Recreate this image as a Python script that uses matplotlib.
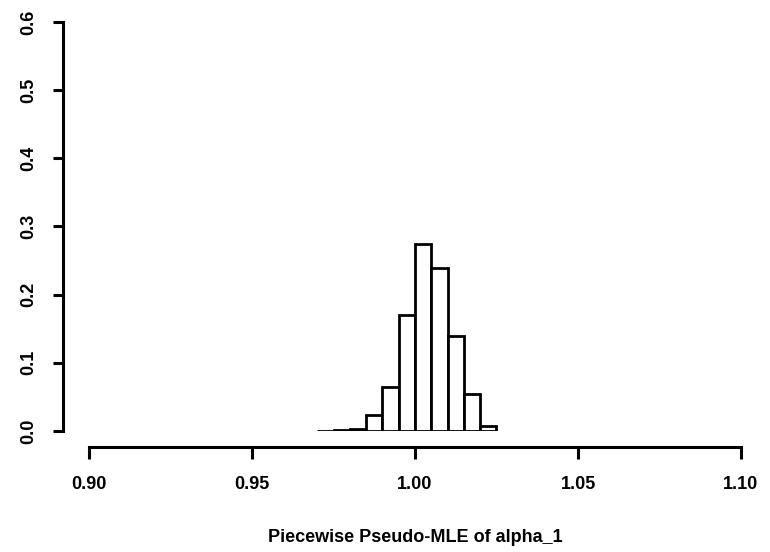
import matplotlib
matplotlib.use("Agg")
import matplotlib.pyplot as plt
import numpy as np

# Data
bin_edges = [0.970, 0.975, 0.980, 0.985, 0.990, 0.995, 1.000, 1.005, 1.010, 1.015, 1.020, 1.025]
proportions = [0.0005, 0.001, 0.003, 0.023, 0.065, 0.170, 0.275, 0.239, 0.139, 0.054, 0.007]
x_ticks = [0.90, 0.95, 1.00, 1.05, 1.10]
x_ticklabels = ["0.90", "0.95", "1.00", "1.05", "1.10"]
y_ticks = [0.0, 0.1, 0.2, 0.3, 0.4, 0.5, 0.6]
y_ticklabels = ["0.0", "0.1", "0.2", "0.3", "0.4", "0.5", "0.6"]
xlabel = "Piecewise Pseudo-MLE of alpha_1"

plt.rcParams['font.family'] = ['Liberation Sans', 'DejaVu Sans']
plt.rcParams['font.weight'] = 'bold'

PT = 0.72  # points per pixel at dpi 100
W, H = 770, 552
fig = plt.figure(figsize=(W / 100, H / 100), dpi=100)
ax = fig.add_axes([89 / W, (H - 431) / H, (741 - 89) / W, (431 - 22) / H])

lefts = np.array(bin_edges[:-1])
widths = np.diff(bin_edges)
ax.bar(lefts, proportions, width=widths, align='edge', facecolor='white',
       edgecolor='black', linewidth=2.0)

ax.set_xlim(0.90, 1.10)
ax.set_ylim(0.0, 0.6)
for s in ['top', 'right']:
    ax.spines[s].set_visible(False)
ax.spines['left'].set_position(('outward', 26 * PT))
ax.spines['bottom'].set_position(('outward', 16 * PT))
ax.spines['left'].set_bounds(0.0, 0.6)
ax.spines['bottom'].set_bounds(0.90, 1.10)
ax.spines['left'].set_linewidth(2.2)
ax.spines['bottom'].set_linewidth(2.2)

ax.set_xticks(x_ticks)
ax.set_xticklabels(x_ticklabels, fontsize=13, fontweight='bold')
ax.set_yticks(y_ticks)
ax.set_yticklabels(y_ticklabels, fontsize=13, fontweight='bold', rotation=90, va='center')
ax.tick_params(axis='x', length=12 * PT, width=2.2, pad=17 * PT)
ax.tick_params(axis='y', length=10 * PT, width=2.2, pad=16 * PT)

fig.text((89 + 741) / 2 / W, 1 - 537 / H, xlabel, ha='center', va='center',
         fontsize=13, fontweight='bold')

fig.savefig("out.png", dpi=100, facecolor='white')
